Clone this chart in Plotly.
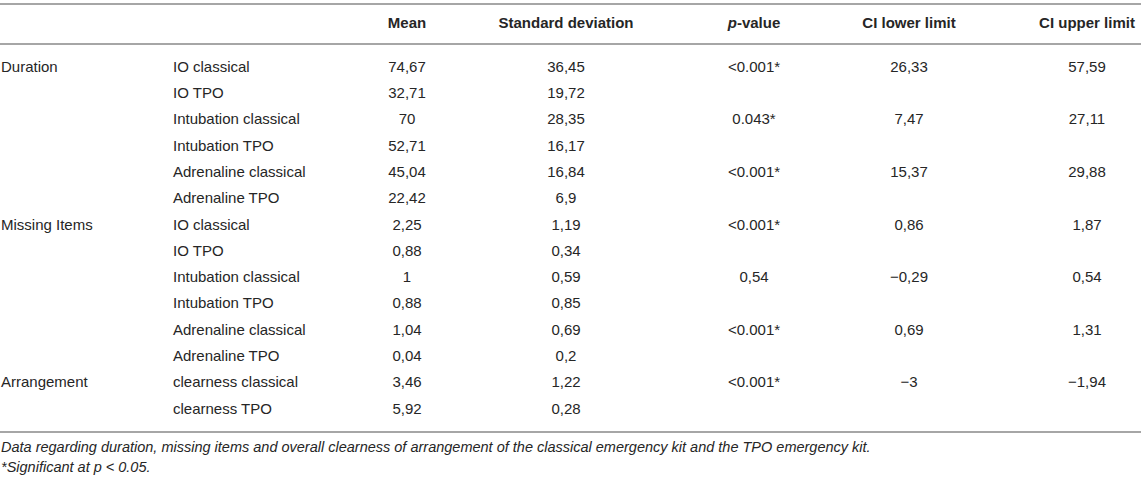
import plotly.graph_objects as go

# table content
groups = ["Duration", "", "", "", "", "",
          "Missing Items", "", "", "", "", "",
          "Arrangement", ""]
items = ["IO classical", "IO TPO", "Intubation classical", "Intubation TPO",
         "Adrenaline classical", "Adrenaline TPO",
         "IO classical", "IO TPO", "Intubation classical", "Intubation TPO",
         "Adrenaline classical", "Adrenaline TPO",
         "clearness classical", "clearness TPO"]
mean = [74.67, 32.71, 70, 52.71, 45.04, 22.42,
        2.25, 0.88, 1, 0.88, 1.04, 0.04,
        3.46, 5.92]
std_dev = [36.45, 19.72, 28.35, 16.17, 16.84, 6.9,
           1.19, 0.34, 0.59, 0.85, 0.69, 0.2,
           1.22, 0.28]
p_value = ["<0.001*", "", "0.043*", "", "<0.001*", "",
           "<0.001*", "", "0,54", "", "<0.001*", "",
           "<0.001*", ""]
ci_lower = [26.33, None, 7.47, None, 15.37, None,
            0.86, None, -0.29, None, 0.69, None,
            -3, None]
ci_upper = [57.59, None, 27.11, None, 29.88, None,
            1.87, None, 0.54, None, 1.31, None,
            -1.94, None]
headers = ["", "", "Mean", "Standard deviation", "<i>p</i>-value",
           "CI lower limit", "CI upper limit"]
notes = ["Data regarding duration, missing items and overall clearness of arrangement "
         "of the classical emergency kit and the TPO emergency kit.",
         "*Significant at p < 0.05."]

W, H = 1145, 481
FONT = "Liberation Sans, Arial, sans-serif"
INK = "#262626"
RULE = "#a6a6a6"


def fmt(v):
    # european decimal comma, real minus sign
    if v is None:
        return ""
    s = f"{abs(v):g}".replace(".", ",")
    return ("\u2212" + s) if v < 0 else s


def esc(s):
    return s.replace("<", "&lt;")


row_y = [68 + 26.3 * i for i in range(len(items))]
header_y = 24
note_y = [448, 468]

# (x, textposition, values)
columns = [
    (1, "middle right", groups),
    (173, "middle right", items),
    (407, "middle center", [fmt(v) for v in mean]),
    (566, "middle center", [fmt(v) for v in std_dev]),
    (754, "middle center", [esc(p) for p in p_value]),
    (909, "middle center", [fmt(v) for v in ci_lower]),
    (1087, "middle center", [fmt(v) for v in ci_upper]),
]

fig = go.Figure()

for (x, pos, vals), head in zip(columns, headers):
    fig.add_trace(go.Scatter(x=[x] * len(vals), y=row_y, text=vals,
                             mode="text", textposition=pos,
                             textfont=dict(family=FONT, size=15, color=INK),
                             hoverinfo="skip", showlegend=False))
    if head:
        fig.add_trace(go.Scatter(x=[x], y=[header_y], text=["<b>" + head + "</b>"],
                                 mode="text", textposition=pos,
                                 textfont=dict(family=FONT, size=15, color=INK),
                                 hoverinfo="skip", showlegend=False))

fig.add_trace(go.Scatter(x=[1] * len(notes), y=note_y,
                         text=["<i>" + esc(n) + "</i>" for n in notes],
                         mode="text", textposition="middle right",
                         textfont=dict(family=FONT, size=14.5, color=INK),
                         hoverinfo="skip", showlegend=False))

for y in [4, 44, 432]:
    fig.add_shape(type="line", x0=0, x1=1141, y0=y, y1=y, xref="x", yref="y",
                  line=dict(color=RULE, width=2))

fig.update_layout(width=W, height=H, margin=dict(l=0, r=0, t=0, b=0),
                  paper_bgcolor="white", plot_bgcolor="white",
                  xaxis=dict(range=[0, W], visible=False, fixedrange=True),
                  yaxis=dict(range=[H, 0], visible=False, fixedrange=True))

# page body has an 8px default margin; drop it so the table sits at the top-left
fig.write_html("out.html", config={"displayModeBar": False},
               post_script="document.body.style.margin='0';")
